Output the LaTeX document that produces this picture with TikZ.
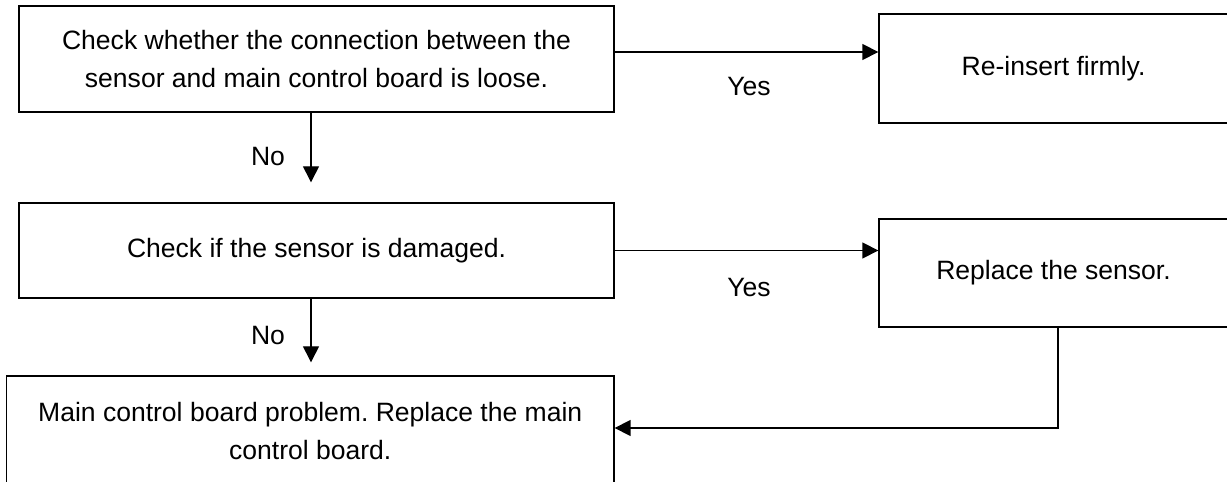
\documentclass[tikz,border=0pt]{standalone}
\usepackage{fontspec}
\setmainfont{Liberation Sans}
\usepackage{tikz}
\usetikzlibrary{
    calc,
    positioning,
    arrows.meta
}
\frenchspacing

\begin{document}
\begin{tikzpicture}[x=0.02cm, y=-0.02cm]
                  % Page frame (boxes on the right run off the edge)
                  \useasboundingbox (0,0) rectangle (1227,482);
                  \clip (0,0) rectangle (1227,482);

                  % Define box and arrow styles:
                  \tikzset{
                        stepbox/.style={draw, line width=0.8pt, inner sep=0pt, align=center, font=\fontsize{15.1}{21.6}\selectfont},
                        flow/.style={-{Triangle[length=0.32cm, width=0.32cm]}, line width=0.75pt},
                        lbl/.style={font=\fontsize{15.1}{21.6}\selectfont}
                  };

                  % Checks on the left
                  \node[stepbox, minimum width=11.9cm, minimum height=2.12cm] (loose) at (316.5,59) {Check whether the connection between the\\ sensor and main control board is loose.};
                  \node[stepbox, minimum width=11.9cm, minimum height=1.9cm] (damaged) at (316.5,250.5) {Check if the sensor is damaged.};
                  \node[stepbox, minimum width=12.15cm, minimum height=2.2cm] (mainboard) at (310.25,431) {Main control board problem. Replace the main\\ control board.};

                  % Actions on the right
                  \node[stepbox, minimum width=6.98cm, minimum height=2.18cm] (reinsert) at (1053.5,68.5) {Re-insert firmly.};
                  \node[stepbox, minimum width=6.98cm, minimum height=2.16cm] (replace) at (1053.5,273) {Replace the sensor.};

                  % Answer labels
                  \node[lbl] (yes1) at (749,87) {Yes};
                  \node[lbl] (yes2) at (749,288) {Yes};
                  \node[lbl] (no1) at (268,157) {No};
                  \node[lbl] (no2) at (268,336) {No};

                  % Start points of the connectors
                  \coordinate (yes1start) at ([yshift=0.14cm]loose.east);
                  \coordinate (no1top) at ([xshift=-0.11cm]loose.south);
                  \coordinate (no2top) at ([xshift=-0.11cm]damaged.south);
                  \coordinate (backtop) at ([xshift=0.09cm]replace.south);
                  \coordinate (backend) at ([yshift=0.06cm]mainboard.east);

                  % Connectors
                  \draw[flow] (yes1start) -- (yes1start -| reinsert.west);
                  \draw[flow] (damaged.east) -- (damaged.east -| replace.west);
                  \draw[flow, shorten >=0.4cm] (no1top) -- (no1top |- damaged.north);
                  \draw[flow, shorten >=0.26cm] (no2top) -- (no2top |- mainboard.north);
                  \draw[flow] (backtop) |- (backend);
\end{tikzpicture}
\end{document}
